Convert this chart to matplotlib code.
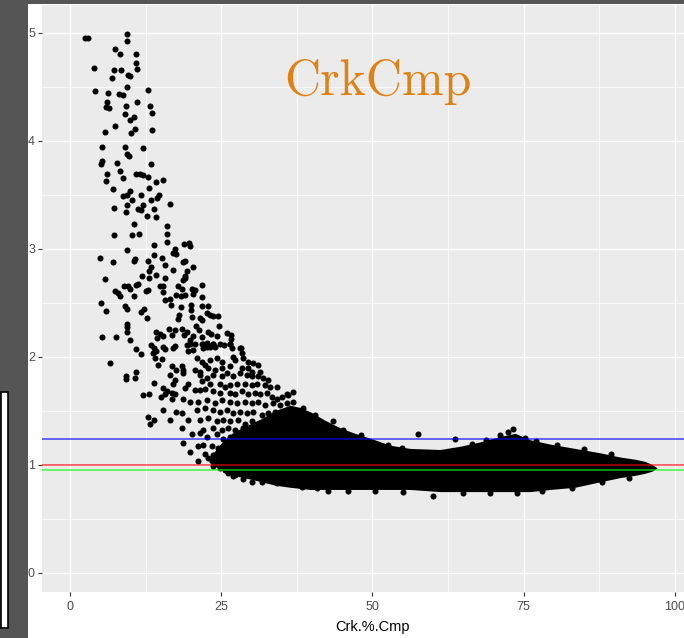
import numpy as np
import matplotlib
matplotlib.use("Agg")
import matplotlib.pyplot as plt
from matplotlib.patches import Rectangle

plt.rcParams['font.family'] = ['Liberation Sans', 'DejaVu Sans']

# Sparse upper part of the cloud (Crk.%.Cmp, ratio)
upper_pts = [
    (2.5, 4.95), (2.9, 4.95), (9.5, 4.99), (9.5, 4.92), (7.4, 4.85), (8.3, 4.80),
    (10.9, 4.80), (10.9, 4.72), (11.1, 4.66), (4.0, 4.67), (7.2, 4.65), (8.4, 4.65),
    (9.6, 4.61), (10.0, 4.60), (6.9, 4.58), (9.5, 4.50), (12.9, 4.47), (4.1, 4.46),
    (6.3, 4.44), (8.1, 4.43), (8.8, 4.42), (6.1, 4.36), (11.1, 4.36), (6.0, 4.31),
    (6.5, 4.30), (9.3, 4.32), (13.3, 4.32), (9.1, 4.25), (13.6, 4.26), (10.6, 4.22),
    (10.0, 4.19), (7.5, 4.14), (5.8, 4.08), (10.8, 4.11), (10.1, 4.07), (13.6, 4.10),
    (5.3, 3.94), (9.1, 3.94), (9.5, 3.88), (9.8, 3.86), (12.0, 3.93), (5.3, 3.81),
    (5.1, 3.78), (7.8, 3.79), (13.4, 3.78), (8.3, 3.72), (6.1, 3.69), (10.9, 3.69),
    (11.6, 3.69), (12.1, 3.68), (12.9, 3.66), (8.8, 3.65), (6.0, 3.63), (15.3, 3.64),
    (14.3, 3.62), (13.1, 3.56), (7.1, 3.55), (10.0, 3.53), (9.4, 3.50), (8.7, 3.49),
    (11.8, 3.50), (14.8, 3.50), (14.4, 3.47), (10.3, 3.45), (13.4, 3.45), (16.5, 3.41),
    (9.5, 3.40), (12.0, 3.40), (7.3, 3.38), (11.3, 3.37), (11.7, 3.36), (13.9, 3.37),
    (9.3, 3.34),
]

# Middle part of the cloud, ratio between about 1.4 and 3.3
middle_pts = [
    (12.8, 3.30), (14.3, 3.29), (10.6, 3.23), (16.0, 3.21), (7.3, 3.13), (10.3, 3.13),
    (11.4, 3.14), (16.0, 3.14), (16.0, 3.06), (13.9, 3.03), (9.4, 2.99), (17.4, 3.00),
    (17.1, 2.96), (17.5, 2.95), (18.9, 3.04), (13.9, 2.94), (5.0, 2.91), (7.1, 2.88),
    (10.8, 2.90), (10.6, 2.89), (12.9, 2.89), (15.2, 2.91), (15.7, 2.85), (18.7, 2.88),
    (13.4, 2.83), (13.1, 2.79), (14.3, 2.76), (17.1, 2.80), (11.9, 2.75), (13.1, 2.73),
    (15.7, 2.73), (5.8, 2.72), (19.0, 2.73), (11.2, 2.67), (10.9, 2.66), (8.9, 2.65),
    (9.6, 2.65), (9.9, 2.63), (14.9, 2.65), (15.4, 2.65), (15.3, 2.60), (17.8, 2.65),
    (12.5, 2.61), (12.9, 2.62), (7.4, 2.61), (8.0, 2.59), (8.3, 2.56), (10.6, 2.56),
    (17.6, 2.57), (18.4, 2.56), (19.0, 2.57), (15.7, 2.52), (16.5, 2.53), (5.2, 2.50),
    (16.7, 2.48), (9.1, 2.47), (9.5, 2.44), (18.4, 2.46), (6.0, 2.42), (12.3, 2.44),
    (11.7, 2.41), (12.8, 2.36), (18.0, 2.39), (17.8, 2.35), (9.5, 2.30), (9.5, 2.27),
    (9.5, 2.23), (16.3, 2.26), (17.4, 2.25), (18.5, 2.26), (14.2, 2.23), (14.9, 2.21),
    (15.3, 2.19), (14.4, 2.17), (16.8, 2.20), (5.3, 2.18), (7.6, 2.18), (10.0, 2.15),
    (13.4, 2.11), (13.9, 2.08), (14.3, 2.05), (13.8, 2.03), (15.3, 2.09), (15.7, 2.07),
    (17.4, 2.10), (17.1, 2.08), (10.9, 2.07), (11.7, 2.02), (14.1, 1.99), (15.2, 1.98),
    (14.6, 1.92), (6.6, 1.94), (16.8, 1.91), (17.6, 1.88), (18.5, 1.91), (10.9, 1.86),
    (10.7, 1.80), (9.3, 1.82), (9.3, 1.79), (16.5, 1.83), (17.4, 1.78), (17.1, 1.75),
    (13.9, 1.76), (15.4, 1.71), (16.0, 1.68), (16.8, 1.66), (12.1, 1.64), (13.1, 1.65),
    (15.0, 1.63), (15.7, 1.65), (16.8, 1.61), (17.4, 1.65),
    (19.7, 3.05), (19.8, 3.02), (19.0, 2.89), (20.4, 2.83), (19.4, 2.79), (19.0, 2.75),
    (18.7, 2.71), (21.9, 2.66), (20.1, 2.63), (20.7, 2.62), (20.4, 2.58), (18.6, 2.63),
    (21.9, 2.55), (20.0, 2.48), (20.0, 2.43), (21.8, 2.47), (22.9, 2.47), (22.6, 2.40),
    (23.2, 2.39), (23.7, 2.38), (24.4, 2.38), (20.1, 2.37), (21.5, 2.36), (21.8, 2.34),
    (20.8, 2.28), (24.7, 2.28), (19.3, 2.23), (18.9, 2.20), (21.4, 2.25), (22.9, 2.23),
    (23.4, 2.21), (20.4, 2.19), (19.8, 2.15), (21.8, 2.18), (24.3, 2.19), (25.9, 2.22),
    (26.7, 2.20), (26.6, 2.16), (19.3, 2.11), (20.7, 2.12), (22.0, 2.12), (22.6, 2.09),
    (23.7, 2.12), (24.0, 2.09), (25.4, 2.11), (26.5, 2.12), (28.2, 2.08),
    (12.9, 1.44), (13.2, 1.38), (13.9, 1.41), (15.4, 1.51), (16.5, 1.41), (17.5, 1.49),
]

# Lower transition zone, ratio below about 2.1
lower_pts = [
    (19.84, 2.12), (21.77, 2.12), (22.60, 2.13), (23.70, 2.12), (24.80, 2.12), (26.46, 2.12),
    (19.57, 2.05), (20.39, 2.06), (22.05, 2.08), (23.15, 2.09), (26.73, 2.08), (28.11, 2.08),
    (28.38, 2.03),
    (20.95, 1.99), (21.77, 1.95), (22.32, 1.92), (23.15, 1.97), (24.25, 1.99), (25.08, 1.95),
    (27.01, 2.00), (27.28, 1.97), (28.66, 1.99), (29.49, 1.95), (30.31, 1.94), (31.14, 1.92),
    (18.63, 1.88), (20.67, 1.88), (21.50, 1.86), (22.87, 1.89), (23.98, 1.88), (25.08, 1.89),
    (26.46, 1.91), (28.38, 1.89), (29.49, 1.89), (30.04, 1.86), (31.41, 1.86),
    (18.74, 1.85), (21.50, 1.83), (22.60, 1.80), (23.70, 1.83), (25.08, 1.82), (25.90, 1.85),
    (27.01, 1.82), (28.11, 1.85), (29.21, 1.83), (30.04, 1.82), (31.14, 1.82), (31.97, 1.80),
    (32.79, 1.78), (19.57, 1.75), (21.77, 1.77), (23.15, 1.75), (24.80, 1.75), (25.63, 1.72),
    (26.46, 1.74), (27.56, 1.75), (28.93, 1.75), (30.04, 1.74), (30.86, 1.75), (32.24, 1.74),
    (33.07, 1.72), (34.17, 1.72),
    (19.02, 1.71), (20.67, 1.69), (21.50, 1.69), (22.32, 1.70), (23.70, 1.68), (24.80, 1.66),
    (26.46, 1.66), (27.28, 1.65), (28.38, 1.68), (29.49, 1.65), (30.59, 1.66), (31.41, 1.65),
    (32.52, 1.66), (33.34, 1.63), (34.17, 1.61), (35.00, 1.63), (35.82, 1.65), (18.74, 1.61),
    (19.84, 1.58), (21.22, 1.58), (22.60, 1.60), (23.98, 1.57), (25.08, 1.60), (26.46, 1.58),
    (27.56, 1.57), (28.93, 1.58), (30.04, 1.57), (31.14, 1.58), (32.24, 1.55), (33.62, 1.57),
    (34.72, 1.55), (35.82, 1.57),
    (20.95, 1.51), (22.32, 1.52), (23.70, 1.51), (24.80, 1.49), (25.90, 1.51), (27.01, 1.48),
    (28.11, 1.49), (29.21, 1.48), (30.31, 1.49), (31.69, 1.46), (32.79, 1.48), (33.89, 1.49),
    (35.27, 1.46), (36.10, 1.49), (18.47, 1.48), (19.57, 1.41), (21.50, 1.41), (22.87, 1.43),
    (24.25, 1.40), (25.35, 1.41), (26.46, 1.40), (27.83, 1.41), (28.93, 1.38), (30.04, 1.40),
    (31.41, 1.38), (32.52, 1.40), (33.62, 1.38), (34.72, 1.40), (35.82, 1.38), (18.47, 1.34),
    (22.05, 1.32), (23.70, 1.34), (25.08, 1.32), (26.18, 1.34), (27.28, 1.32), (28.66, 1.34),
    (29.76, 1.32), (30.86, 1.34), (31.97, 1.32), (33.34, 1.34), (34.44, 1.32), (35.55, 1.34),
    (20.12, 1.28), (21.50, 1.29), (22.60, 1.26), (24.25, 1.28), (25.35, 1.24), (26.46, 1.26),
    (27.56, 1.28), (28.93, 1.24), (30.04, 1.26), (31.14, 1.28), (32.52, 1.24), (33.62, 1.26),
    (34.72, 1.28), (35.82, 1.24), (18.63, 1.20), (21.22, 1.17), (22.05, 1.18), (23.42, 1.17),
    (24.53, 1.15), (25.90, 1.18), (27.28, 1.17), (28.38, 1.18), (29.49, 1.15), (30.59, 1.17),
    (31.97, 1.18), (33.07, 1.15), (34.17, 1.17), (35.27, 1.18), (36.10, 1.15),
    (19.84, 1.12), (22.32, 1.10), (23.70, 1.09), (24.80, 1.10), (26.46, 1.09), (27.56, 1.10),
    (28.66, 1.07), (29.76, 1.09), (30.86, 1.10), (32.24, 1.09), (33.34, 1.07), (34.44, 1.10),
    (35.55, 1.09), (21.22, 1.03), (22.87, 1.06), (23.70, 0.99), (25.08, 1.01), (26.46, 1.03),
    (27.83, 1.01), (29.21, 1.03), (30.31, 1.01), (31.41, 1.03), (32.52, 1.01), (33.89, 1.03),
    (35.00, 1.01), (36.10, 1.03),
    (24.80, 0.97), (25.63, 0.95), (26.18, 0.92), (27.28, 0.90), (28.66, 0.93), (30.04, 0.92),
    (31.14, 0.93), (32.24, 0.92), (33.34, 0.93), (34.72, 0.92), (35.82, 0.93), (28.66, 0.87),
    (30.04, 0.84), (31.69, 0.84), (32.79, 0.86), (34.17, 0.83), (35.27, 0.86), (36.37, 0.84),
    (27.01, 0.89),
]

# Points sticking out of the dense band
edge_pts = [
    (57.6, 1.285), (63.7, 1.235), (73.3, 1.33), (72.4, 1.30), (71.1, 1.275), (75.2, 1.25),
    (60.0, 0.71), (36.1, 1.645), (36.9, 1.67), (40.8, 0.78), (42.7, 0.76), (38.3, 0.79),
    (36.9, 1.58), (38.6, 1.52), (40.5, 1.46), (43.5, 1.40), (45.2, 1.32), (48.2, 1.27),
    (52.6, 1.18), (54.9, 1.15), (46.0, 0.755), (50.5, 0.755), (55.0, 0.75), (65.0, 0.735),
    (69.5, 0.74), (74.0, 0.74), (78.0, 0.755), (66.5, 1.19), (68.8, 1.225), (77.0, 1.22),
    (80.5, 1.18), (85.0, 1.14), (89.5, 1.10), (83.0, 0.785), (88.0, 0.835), (92.5, 0.88),
]

# Envelope of the saturated band where the points overlap completely
band_x = [23.0, 25.0, 27.0, 29.5, 31.8, 33.9, 36.4, 38.0, 39.7, 42.2, 44.7, 47.1, 50.4,
          52.9, 56.2, 61.2, 64.5, 67.8, 71.1, 73.6, 76.1, 79.4, 83.5, 87.6, 91.0, 93.4,
          95.1, 96.3, 97.1]
band_hi = [1.06, 1.20, 1.30, 1.37, 1.43, 1.50, 1.55, 1.53, 1.49, 1.41, 1.34, 1.29, 1.23,
           1.18, 1.15, 1.14, 1.17, 1.21, 1.26, 1.29, 1.23, 1.19, 1.15, 1.11, 1.07, 1.05,
           1.03, 1.00, 0.97]
band_lo = [1.02, 0.95, 0.90, 0.87, 0.84, 0.81, 0.79, 0.78, 0.77, 0.77, 0.77, 0.77, 0.77,
           0.77, 0.77, 0.75, 0.75, 0.75, 0.75, 0.75, 0.75, 0.77, 0.79, 0.84, 0.88, 0.90,
           0.92, 0.94, 0.97]

# Reference levels
ref_levels = [1.235, 1.0, 0.952]
ref_colors = ['#0000FF', '#FF0000', '#00FF00']

title_text = 'CrkCmp'
x_title = 'Crk.%.Cmp'
x_ticks = [0, 25, 50, 75, 100]
y_ticks = [0, 1, 2, 3, 4, 5]

W, H = 684, 638
fig = plt.figure(figsize=(W / 100, H / 100), dpi=100, facecolor='#555555')
fig.patches.append(Rectangle((28 / W, 0), 1 - 28 / W, (H - 4) / H, transform=fig.transFigure,
                             facecolor='white', edgecolor='none', zorder=-2))
fig.patches.append(Rectangle((0.5 / W, (H - 628) / H), 7.5 / W, (628 - 392) / H,
                             transform=fig.transFigure, facecolor='white',
                             edgecolor='black', linewidth=1.2, zorder=-1))

ax = fig.add_axes([41.5 / W, (H - 591.5) / H, (W - 41.5) / W, (591.5 - 5) / H])
ax.set_zorder(1)
ax.set_facecolor('#EBEBEB')
for s in ax.spines.values():
    s.set_visible(False)

ax.set_xlim(-4.71, 101.54)
ax.set_ylim(-0.175, 5.256)
ax.set_xticks(x_ticks)
ax.set_yticks(y_ticks)
ax.set_xticks([12.5, 37.5, 62.5, 87.5], minor=True)
ax.set_yticks([0.5, 1.5, 2.5, 3.5, 4.5], minor=True)
ax.set_axisbelow(True)
ax.grid(which='major', color='white', linewidth=1.0)
ax.grid(which='minor', color='white', linewidth=0.5)
ax.tick_params(which='major', length=2.7, width=0.8, color='#333333',
               labelcolor='#4D4D4D', labelsize=9, pad=2)
ax.tick_params(axis='x', which='major', pad=4)
ax.tick_params(which='minor', length=0)

ax.fill_between(band_x, band_lo, band_hi, color='black', linewidth=0, zorder=2)
for pts in (upper_pts, middle_pts, lower_pts, edge_pts):
    px, py = np.array(pts).T
    ax.scatter(px, py, s=19, color='black', linewidths=0, zorder=3)

for lvl, col in zip(ref_levels, ref_colors):
    ax.axhline(lvl, color=col, alpha=0.68, linewidth=1.2, zorder=4)

ax.text(51, 4.42, title_text, family='cmr10', fontsize=36, color='#DF8214',
        ha='center', va='baseline', zorder=5)

ax.set_xlabel(x_title, fontsize=10.5, color='black')
ax.xaxis.label.set_va('center')
ax.xaxis.set_label_coords((50 + 4.71) / (101.54 + 4.71), -(627 - 591.5) / (591.5 - 5))

fig.savefig('out.png', dpi=100, facecolor=fig.get_facecolor())
